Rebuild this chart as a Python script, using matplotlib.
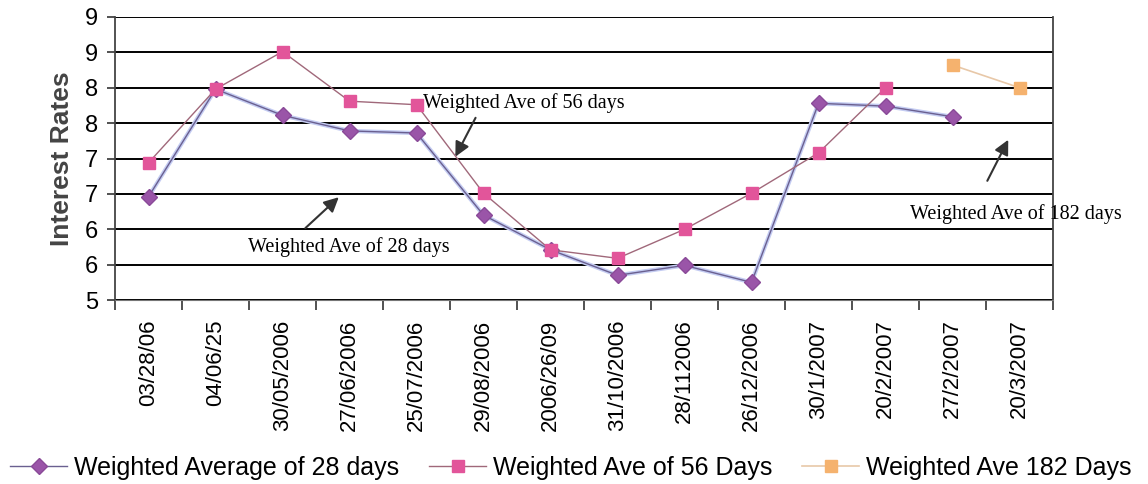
import matplotlib.pyplot as plt
import numpy as np

dates = ['03/28/06', '04/06/25', '30/05/2006', '27/06/2006', '25/07/2006',
         '29/08/2006', '2006/26/09', '31/10/2006', '28/112006', '26/12/2006',
         '30/1/2007', '20/2/2007', '27/2/2007', '20/3/2007']

w28 = [6.46, 7.98, 7.61, 7.39, 7.36, 6.20, 5.71, 5.35, 5.49, 5.25, 7.78, 7.74, 7.59, np.nan]
w56 = [6.94, 7.98, 8.51, 7.81, 7.76, 6.51, 5.71, 5.59, 6.00, 6.51, 7.08, 8.00, np.nan, np.nan]
w182 = [np.nan] * 12 + [8.32, 8.00]

yticks = [5, 5.5, 6, 6.5, 7, 7.5, 8, 8.5, 9]
ylabels = ['5', '6', '6', '7', '7', '8', '8', '9', '9']

plt.rcParams['font.family'] = ['Liberation Sans', 'DejaVu Sans']

fig = plt.figure(figsize=(11.48, 4.84), dpi=100)
ax = fig.add_axes([0.1002, 0.380, 0.8171, 0.585])

x = np.arange(len(dates))
ax.plot(x, w28, color='#c4ccf2', lw=3.0, zorder=2)
ax.plot(x, w28, color='#6a6090', lw=1.0, marker='D', ms=8,
        mfc='#9a55a8', mec='#8a4a98', label='Weighted Average of 28 days', zorder=3)
ax.plot(x, w56, color='#a0687a', lw=1.0, marker='s', ms=9,
        mfc='#e2559a', mec='#e2559a', label='Weighted Ave of 56 Days', zorder=4)
ax.plot(x, w182, color='#e8c8a8', lw=1.2, marker='s', ms=9,
        mfc='#f5b26e', mec='#f5b26e', label='Weighted Ave 182 Days', zorder=4)

ax.set_xlim(-0.5, len(dates) - 0.5)
ax.set_ylim(5, 9)
ax.set_yticks(yticks)
ax.set_yticklabels(ylabels, fontsize=17)
ax.yaxis.grid(True, color='black', lw=1.4)
ax.set_axisbelow(True)

ax.set_xticks(np.arange(len(dates) + 1) - 0.5)
ax.set_xticklabels([])
ax.set_xticks(x, minor=True)
ax.set_xticklabels(dates, minor=True, rotation=90, fontsize=16, va='top')
ax.tick_params(axis='x', which='major', length=7, width=1.2, color='#333333')
ax.tick_params(axis='x', which='minor', length=0, pad=14)
ax.tick_params(axis='y', length=6, width=1.2, color='#333333', pad=6)

for s in ['left', 'right']:
    ax.spines[s].set_color('#444444')
    ax.spines[s].set_linewidth(1.3)
ax.spines['top'].set_visible(False)
ax.spines['bottom'].set_color('#777777')

ax.set_ylabel('Interest Rates', fontsize=19, fontweight='bold', color='#444444', labelpad=8)

# annotations
serif = ['Liberation Serif', 'DejaVu Serif']
arrow = dict(arrowstyle='-|>', color='#333333', lw=1.5, mutation_scale=22)
ax.annotate('', xy=(4.56, 6.99), xytext=(4.9, 7.61), arrowprops=arrow)
ax.text(4.1, 7.78, 'Weighted Ave of 56 days', family=serif, fontsize=14.5, va='center')
ax.annotate('', xy=(2.87, 6.48), xytext=(2.31, 5.99), arrowprops=arrow)
ax.text(1.48, 5.75, 'Weighted Ave of 28 days', family=serif, fontsize=14.5, va='center')
ax.annotate('', xy=(12.85, 7.3), xytext=(12.5, 6.65), arrowprops=arrow)
ax.text(11.36, 6.22, 'Weighted Ave of 182 days', family=serif, fontsize=14.5, va='center',
        clip_on=False)

fig.legend(loc='center', bbox_to_anchor=(0.497, 0.033), ncol=3, frameon=False,
           fontsize=18, handlelength=2.3, columnspacing=1.2, handletextpad=0.25,
           borderaxespad=0, borderpad=0)

fig.savefig('out.png', dpi=100)
